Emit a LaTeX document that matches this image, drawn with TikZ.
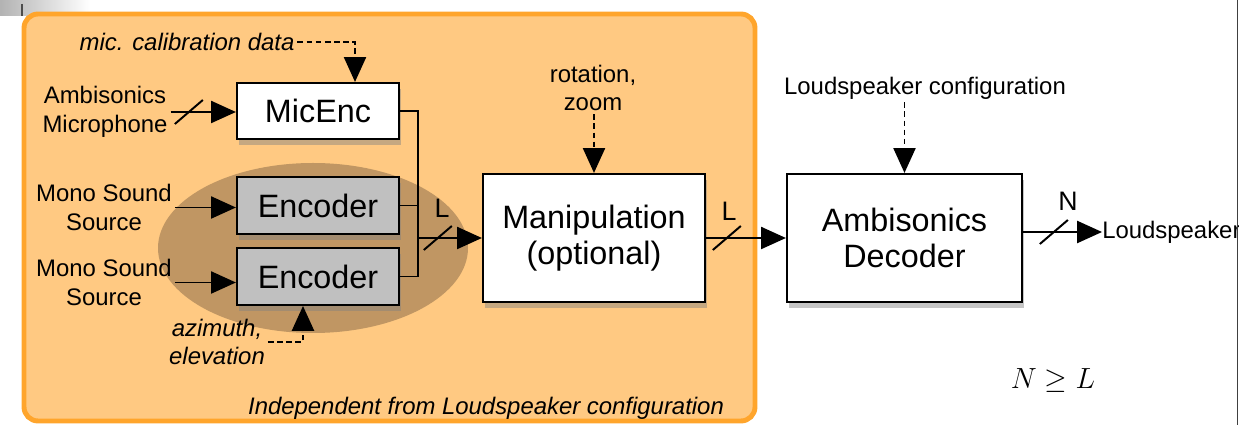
\documentclass[tikz,border=0pt]{standalone}
\usepackage{fontspec}
\setmainfont{Liberation Sans}
\usetikzlibrary{arrows.meta, shadows}

\definecolor{panelfill}{HTML}{FFC982}
\definecolor{panelline}{HTML}{FFA52C}
\definecolor{blob}{HTML}{C09663}
\definecolor{encfill}{HTML}{C0C0C0}

\begin{document}
\begin{tikzpicture}[x=0.025cm, y=-0.025cm, font=\fontsize{17}{20.5}\selectfont]
    \tikzstyle{blk} = [draw, line width=1.5pt, fill=white, inner sep=0pt, align=center, font=\fontsize{23}{26}\selectfont, drop shadow={opacity=0.45, shadow xshift=1.5pt, shadow yshift=-4pt}]
    \tikzstyle{lbl} = [draw=none, fill=none, align=center, inner sep=2pt]
    \tikzstyle{itl} = [lbl, font=\fontsize{17}{20.5}\selectfont\itshape]
    \tikzstyle{chn} = [lbl, font=\fontsize{19}{22}\selectfont]
    \tikzstyle{bus} = [line width=1.4pt]
    \tikzstyle{arr} = [bus, -{Triangle[length=0.62cm, width=0.55cm]}]
    \tikzstyle{ctl} = [arr, dash pattern=on 4pt off 2.5pt]
    \useasboundingbox (0,0) rectangle (1239,425);

    % background
    \shade[left color=gray!60, right color=white] (0,0) rectangle (90,16);
    \draw[gray!60!black, line width=0.8pt] (22,4) -- (22,16);
    \draw[draw=panelline, fill=panelfill, line width=3.5pt, rounded corners=10pt] (24,14) rectangle (755,421);
    \fill[blob] (313,248) ellipse [x radius=155, y radius=85];

    % blocks
    \node[blk, minimum width=4.05cm, minimum height=1.4cm] (mic) at (318,111) {MicEnc};
    \node[blk, fill=encfill, minimum width=4.05cm, minimum height=1.42cm] (enc1) at (318,205.5) {Encoder};
    \node[blk, fill=encfill, minimum width=4.05cm, minimum height=1.42cm] (enc2) at (318,276.5) {Encoder};
    \node[blk, minimum width=5.55cm, minimum height=3.2cm] (man) at (594,238) {Manipulation\\(optional)};
    \node[blk, minimum width=5.875cm, minimum height=3.2cm] (dec) at (904.5,238) {Ambisonics\\Decoder};

    % labels
    \node[itl] (cal) at (187,42) {mic. calibration data};
    \node[lbl] (amb) at (105,112) {Ambisonics\\Microphone};
    \node[lbl] (src1) at (104,207.5) {Mono Sound\\Source};
    \node[lbl] (src2) at (104,282.5) {Mono Sound\\Source};
    \node[itl] (azi) at (217,342) {azimuth,\\elevation};
    \node[lbl] (rot) at (593,88) {rotation,\\zoom};
    \node[lbl] (lsc) at (925,88) {Loudspeaker configuration};
    \node[lbl, anchor=west, inner sep=0pt] (spk) at (1102,232) {Loudspeaker};
    \node[itl] (ind) at (486,408) {Independent from Loudspeaker configuration};
    \node[lbl, font=\fontsize{21}{24}\selectfont] (rel) at (1053,381) {$N \geq L$};
    \node[chn] (l1) at (442,208) {L};
    \node[chn] (l2) at (729,211) {L};
    \node[chn] (nn) at (1068,201) {N};

    % signal paths
    \draw[ctl] (cal.east) -| ([xshift=0.925cm]mic.north);
    \draw[arr] (amb.east) -- coordinate[pos=0.28] (s0) (mic.west |- amb.east);
    \draw[bus] (s0) +(-14,12) -- +(14,-12);
    \draw[arr] (src1.east) -- (enc1.west |- src1.east);
    \draw[arr] (src2.east) -- (enc2.west |- src2.east);
    \draw[ctl] (azi.east) -| ([xshift=-0.375cm]enc2.south);
    \coordinate (join) at (418,238);
    \draw[bus] (mic.east) -| (join);
    \draw[bus] (enc1.east) -| (join);
    \draw[bus] (enc2.east) -| (join);
    \draw[arr] (join) -- coordinate[pos=0.31] (s1) (man.west);
    \draw[bus] (s1) +(-14,12) -- +(14,-12);
    \draw[ctl] (rot.south -| man.north) -- (man.north);
    \draw[arr] (man.east) -- coordinate[pos=0.26] (s2) (dec.west);
    \draw[bus] (s2) +(-14,12) -- +(14,-12);
    \draw[ctl] (lsc.south -| dec.north) -- (dec.north);
    \draw[arr] ([yshift=0.15cm]dec.east) -- coordinate[pos=0.39] (s3) (spk.west);
    \draw[bus] (s3) +(-14,12) -- +(14,-12);

    % page edge
    \draw[gray!50!black, line width=1.2pt] (1237.5,0) -- (1237.5,425);
\end{tikzpicture}
\end{document}
